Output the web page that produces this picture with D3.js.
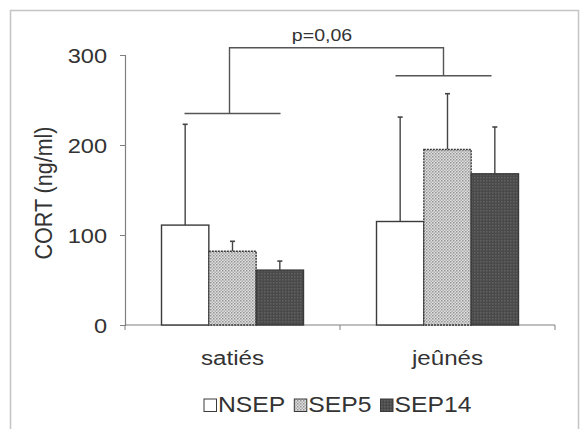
<!DOCTYPE html>
<html>
<head>
<meta charset="utf-8">
<script src="https://cdn.jsdelivr.net/npm/d3@7"></script>
<style>
  html, body { margin: 0; padding: 0; background: #fff; }
  svg { display: block; }
  text { font-family: "Liberation Sans", Arial, sans-serif; fill: #333; }
</style>
</head>
<body>
<div id="chart"></div>
<script>
// ---- data ----
const categories = ["satiés", "jeûnés"];
const series = ["NSEP", "SEP5", "SEP14"];
const means = {
  NSEP:  [111, 115],
  SEP5:  [82, 195],
  SEP14: [61, 168]
};
const errors = {
  NSEP:  [112, 116],
  SEP5:  [11, 62],
  SEP14: [10, 52]
};
const yTicks = [0, 100, 200, 300];
const yTitle = "CORT (ng/ml)";
const sigLabel = "p=0,06";
const bracketLevels = { low: [235, 277], top: 308 };

// ---- layout ----
const W = 584, H = 429;
const SX = 1.15; // horizontal stretch of the text in the reference
const svg = d3.select("#chart").append("svg").attr("width", W).attr("height", H);

const defs = svg.append("defs");
const p5 = defs.append("pattern").attr("id", "pat5").attr("patternUnits", "userSpaceOnUse")
  .attr("width", 3).attr("height", 3);
p5.append("rect").attr("width", 3).attr("height", 3).attr("fill", "#e0e0e0");
p5.append("rect").attr("x", 0).attr("y", 0).attr("width", 1.5).attr("height", 1.5).attr("fill", "#949494");
p5.append("rect").attr("x", 1.5).attr("y", 1.5).attr("width", 1.5).attr("height", 1.5).attr("fill", "#adadad");

const p14 = defs.append("pattern").attr("id", "pat14").attr("patternUnits", "userSpaceOnUse")
  .attr("width", 3).attr("height", 3);
p14.append("rect").attr("width", 3).attr("height", 3).attr("fill", "#4a4a4a");
p14.append("rect").attr("x", 0).attr("y", 0).attr("width", 1.5).attr("height", 1.5).attr("fill", "#616161");

const fills = { NSEP: "#ffffff", SEP5: "url(#pat5)", SEP14: "url(#pat14)" };
const dashes = { NSEP: null, SEP5: "2,1", SEP14: null };

// frame
svg.append("rect").attr("x", 10.5).attr("y", 10.5).attr("width", 568).attr("height", 440)
  .attr("fill", "none").attr("stroke", "#c4c4c4").attr("stroke-width", 1.5);

const x0 = d3.scaleBand().domain(categories).range([125, 555]);
const groupW = 142;
const x1 = d3.scaleBand().domain(series)
  .range([x0.bandwidth() / 2 - groupW / 2, x0.bandwidth() / 2 + groupW / 2]);
const y = d3.scaleLinear().domain([0, 300]).range([325, 55]);

// helper: stretched text
function stext(sel, x, yy, size, anchor, str) {
  return sel.append("text")
    .attr("transform", `translate(${x},${yy}) scale(${SX},1)`)
    .attr("text-anchor", anchor).style("font-size", size + "px").text(str);
}

// y axis
const yAxis = svg.append("g").attr("transform", "translate(125,0)")
  .call(d3.axisLeft(y).tickValues(yTicks).tickSize(5));
yAxis.select(".domain").attr("stroke", "#808080").attr("stroke-width", 1.2);
yAxis.selectAll(".tick line").attr("stroke", "#808080");
yAxis.selectAll(".tick text")
  .attr("x", 0).attr("dy", "0.36em")
  .attr("transform", `translate(-18,0) scale(${SX},1)`)
  .style("font-size", "20.5px").attr("fill", "#333")
  .style("font-family", "Liberation Sans, Arial, sans-serif");

// x axis
const xAxis = svg.append("g").attr("transform", "translate(0,325)");
xAxis.append("line").attr("x1", 125).attr("x2", 555).attr("stroke", "#808080").attr("stroke-width", 1.2);
const bounds = [x0.range()[0], ...categories.map(c => x0(c) + x0.bandwidth())];
xAxis.selectAll("line.tk").data(bounds).enter().append("line").attr("class", "tk")
  .attr("x1", d => d).attr("x2", d => d).attr("y1", 0).attr("y2", 5).attr("stroke", "#808080");
categories.forEach(c => stext(xAxis, x0(c) + x0.bandwidth() / 2, 40, 21, "middle", c));

// y title
svg.append("text").attr("transform", `translate(52,193) scale(${SX},1) rotate(-90)`)
  .attr("text-anchor", "middle").style("font-size", "21.5px").text(yTitle);

// bars
const rows = [];
categories.forEach((c, i) => series.forEach(s => rows.push({ c, s, v: means[s][i], e: errors[s][i] })));

// error bars (behind bars)
const eg = svg.append("g");
rows.forEach(d => {
  const cx = x0(d.c) + x1(d.s) + x1.bandwidth() / 2;
  eg.append("line").attr("x1", cx).attr("x2", cx).attr("y1", y(d.v)).attr("y2", y(d.v + d.e))
    .attr("stroke", "#444").attr("stroke-width", 1.4);
  eg.append("line").attr("x1", cx - 2.5).attr("x2", cx + 2.5).attr("y1", y(d.v + d.e)).attr("y2", y(d.v + d.e))
    .attr("stroke", "#444").attr("stroke-width", 1.6);
});

svg.append("g").selectAll("rect").data(rows).enter().append("rect")
  .attr("x", d => x0(d.c) + x1(d.s))
  .attr("y", d => y(d.v))
  .attr("width", x1.bandwidth())
  .attr("height", d => y(0) - y(d.v))
  .attr("fill", d => fills[d.s])
  .attr("stroke", "#3a3a3a")
  .attr("stroke-width", 1.4)
  .attr("stroke-dasharray", d => dashes[d.s]);

// significance bracket
const bg = svg.append("g").attr("stroke", "#555").attr("stroke-width", 1.4).attr("fill", "none");
const half = 48;
const cx0 = x0(categories[0]) + x0.bandwidth() / 2;
const cx1 = x0(categories[1]) + x0.bandwidth() / 2 - 4;
bg.append("line").attr("x1", cx0 - half).attr("x2", cx0 + half)
  .attr("y1", y(bracketLevels.low[0])).attr("y2", y(bracketLevels.low[0]));
bg.append("line").attr("x1", cx1 - half).attr("x2", cx1 + half)
  .attr("y1", y(bracketLevels.low[1])).attr("y2", y(bracketLevels.low[1]));
bg.append("path").attr("d",
  `M${cx0 - 3},${y(bracketLevels.low[0])} V${y(bracketLevels.top)} H${cx1} V${y(bracketLevels.low[1])}`);
stext(svg, 322, 41, 17, "middle", sigLabel);

// legend (laid out sequentially)
const legend = svg.append("g").attr("transform", "translate(0,412)");
let lx = 204;
series.forEach((s, i) => {
  legend.append("rect").attr("x", lx).attr("y", -13).attr("width", 12.5).attr("height", 12.5)
    .attr("fill", fills[s]).attr("stroke", "#3a3a3a").attr("stroke-width", 1);
  const t = stext(legend, lx + 14, 0, 21.5, "start", s);
  lx += 14 + t.node().getComputedTextLength() * SX + 9;
});
</script>
</body>
</html>
